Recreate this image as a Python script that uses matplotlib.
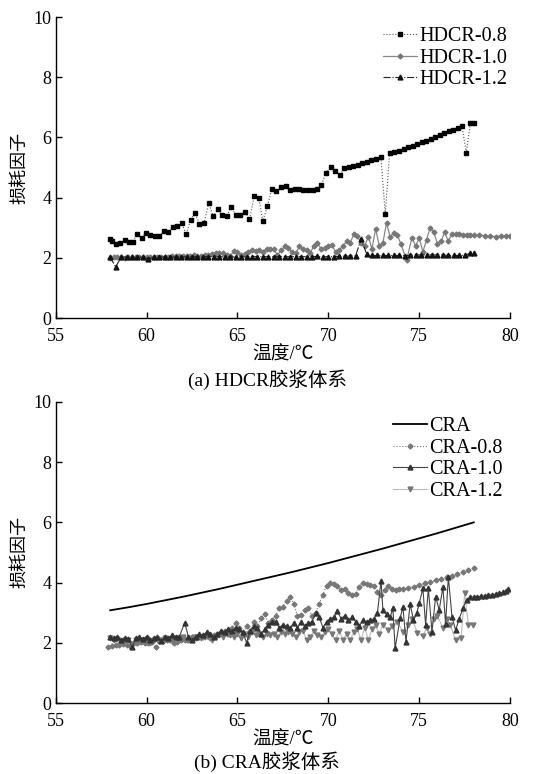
import matplotlib
matplotlib.use("Agg")
import matplotlib.pyplot as plt

plt.rcParams['font.family'] = ['Liberation Serif', 'Noto Sans CJK SC']
plt.rcParams['mathtext.fontset'] = 'stix'

# ---------------- (a) HDCR ----------------
hd08_T = [57.99, 58.08, 58.32, 58.54, 58.81, 59.04, 59.24, 59.49, 59.73, 59.97, 60.19, 60.47, 60.70, 60.96,
          61.20, 61.44, 61.70, 61.93, 62.17, 62.43, 62.67, 62.91, 63.16, 63.42, 63.66, 63.92, 64.17, 64.41,
          64.65, 64.91, 65.16, 65.42, 65.66, 65.92, 66.17, 66.39, 66.65, 66.89, 67.14, 67.38, 67.66, 67.90,
          68.14, 68.37, 68.63, 68.87, 69.13, 69.38, 69.62, 69.86, 70.12, 70.37, 70.65, 70.87, 71.13, 71.37,
          71.62, 71.86, 72.12, 72.37, 72.63, 72.89, 73.13, 73.37, 73.62, 73.88, 74.14, 74.37, 74.63, 74.87,
          75.13, 75.38, 75.62, 75.88, 76.12, 76.37, 76.61, 76.85, 77.11, 77.35, 77.59, 77.81, 77.99]
hd08_v = [2.64, 2.55, 2.47, 2.50, 2.58, 2.53, 2.53, 2.80, 2.66, 2.84, 2.77, 2.72, 2.72, 2.88,
          2.86, 3.02, 3.05, 3.16, 2.78, 3.27, 3.49, 3.12, 3.16, 3.83, 3.38, 3.61, 3.43, 3.40,
          3.69, 3.43, 3.44, 3.54, 3.28, 4.04, 4.00, 3.22, 3.72, 4.29, 4.21, 4.37, 4.40, 4.27,
          4.29, 4.29, 4.26, 4.27, 4.26, 4.29, 4.43, 4.81, 5.02, 4.90, 4.75, 4.98, 5.02, 5.04,
          5.09, 5.15, 5.19, 5.25, 5.29, 5.36, 3.45, 5.47, 5.52, 5.56, 5.61, 5.68, 5.73, 5.79,
          5.84, 5.89, 5.94, 6.02, 6.09, 6.15, 6.20, 6.25, 6.32, 6.37, 5.50, 6.47, 6.47]

hd10_T = [58.0, 58.2, 58.4, 58.6, 58.8, 59.0, 59.2, 59.4, 59.6, 59.8, 60.0, 60.2, 60.4, 60.6, 60.8,
          61.0, 61.2, 61.4, 61.6, 61.8, 62.0, 62.2, 62.4, 62.6, 62.8, 63.0, 63.2, 63.4, 63.6, 63.8,
          64.0, 64.2, 64.4, 64.6, 64.8, 65.0, 65.2, 65.4, 65.6, 65.8, 66.0, 66.2, 66.4, 66.6, 66.8,
          67.0, 67.2, 67.4, 67.6, 67.8, 68.0, 68.2, 68.4, 68.6, 68.8, 69.0, 69.2, 69.4, 69.6, 69.8,
          70.0, 70.2, 70.4, 70.6, 70.8, 71.0, 71.2, 71.4, 71.6, 71.8, 72.0, 72.2, 72.4, 72.6, 72.8,
          73.0, 73.2, 73.4, 73.6, 73.8, 74.0, 74.3, 74.6, 74.8, 75.0, 75.2, 75.4, 75.6, 75.8, 76.0,
          76.2, 76.4, 76.6, 76.8, 77.0, 77.2, 77.4, 77.6, 77.8, 78.0, 78.3, 78.6, 78.9, 79.2, 79.5,
          79.8, 80.0]
hd10_v = [1.98, 2.02, 2.03, 2.02, 2.00, 2.02, 2.02, 2.02, 2.02, 2.02, 2.03, 2.03, 2.03, 2.03, 2.04,
          2.04, 2.04, 2.05, 2.05, 2.06, 2.06, 2.07, 2.07, 2.08, 2.07, 2.06, 2.08, 2.10, 2.12, 2.15,
          2.17, 2.16, 2.10, 2.07, 2.22, 2.20, 2.08, 2.12, 2.20, 2.25, 2.24, 2.26, 2.20, 2.30, 2.30,
          2.28, 2.10, 2.25, 2.38, 2.32, 2.20, 2.15, 2.38, 2.30, 2.25, 2.15, 2.40, 2.50, 2.30, 2.32,
          2.40, 2.42, 2.20, 2.25, 2.40, 2.55, 2.50, 2.78, 2.72, 2.50, 2.40, 2.70, 2.30, 2.97, 2.40,
          2.50, 3.16, 2.70, 2.82, 2.75, 2.45, 1.92, 2.67, 2.40, 2.66, 2.20, 2.60, 3.00, 2.85, 2.47,
          2.55, 2.85, 2.55, 2.80, 2.78, 2.79, 2.77, 2.76, 2.76, 2.76, 2.75, 2.74, 2.72, 2.71, 2.72,
          2.74, 2.74]

hd12_T = [58.0, 58.3, 58.6, 58.9, 59.2, 59.5, 59.8, 60.1, 60.4, 60.7, 61.0, 61.3, 61.6, 61.9, 62.2,
          62.5, 62.8, 63.1, 63.4, 63.7, 64.0, 64.3, 64.6, 64.9, 65.2, 65.5, 65.8, 66.1, 66.4, 66.7,
          67.0, 67.3, 67.6, 67.9, 68.2, 68.5, 68.8, 69.1, 69.4, 69.7, 70.0, 70.3, 70.6, 70.9, 71.2,
          71.5, 71.8, 72.1, 72.4, 72.7, 73.0, 73.3, 73.6, 73.9, 74.2, 74.5, 74.8, 75.1, 75.4, 75.7,
          76.0, 76.3, 76.6, 76.9, 77.2, 77.5, 77.8, 78.0]
hd12_v = [2.02, 1.70, 2.02, 2.03, 2.02, 2.02, 2.03, 1.97, 2.02, 2.03, 2.03, 2.03, 2.03, 2.04, 2.03,
          2.04, 2.04, 2.04, 2.04, 2.04, 2.04, 2.03, 2.04, 2.02, 2.04, 2.03, 2.04, 2.04, 2.04, 2.04,
          2.04, 2.04, 2.04, 2.04, 2.04, 2.04, 2.04, 2.04, 2.05, 2.04, 2.04, 2.04, 2.05, 2.06, 2.06,
          2.07, 2.62, 2.14, 2.08, 2.08, 2.08, 2.08, 2.08, 2.08, 2.07, 2.09, 2.10, 2.10, 2.10, 2.10,
          2.10, 2.10, 2.08, 2.08, 2.08, 2.09, 2.15, 2.15]

# ---------------- (b) CRA ----------------
cra_T = [58, 59, 60, 61, 62, 63, 64, 65, 66, 67, 68, 69, 70, 71, 72, 73, 74, 75, 76, 77, 78]
cra_v = [3.08, 3.18, 3.29, 3.41, 3.53, 3.66, 3.79, 3.93, 4.07, 4.21, 4.35, 4.50, 4.65, 4.81, 4.97,
         5.13, 5.30, 5.47, 5.64, 5.82, 6.00]

c08_T = [57.9, 58.1, 58.3, 58.5, 58.7, 58.9, 59.1, 59.3, 59.5, 59.7, 59.9, 60.1, 60.3, 60.5, 60.7,
         60.9, 61.1, 61.3, 61.5, 61.7, 61.9, 62.1, 62.3, 62.5, 62.7, 62.9, 63.1, 63.3, 63.5, 63.7,
         63.9, 64.1, 64.3, 64.5, 64.7, 64.9, 65.1, 65.3, 65.5, 65.7, 65.9, 66.1, 66.3, 66.5, 66.7,
         66.9, 67.1, 67.3, 67.5, 67.7, 67.9, 68.1, 68.3, 68.5, 68.7, 68.9, 69.1, 69.3, 69.5, 69.7,
         69.9, 70.1, 70.3, 70.5, 70.7, 70.9, 71.1, 71.3, 71.5, 71.7, 71.9, 72.1, 72.3, 72.5, 72.7,
         72.9, 73.1, 73.3, 73.5, 73.7, 73.9, 74.1, 74.4, 74.7, 75.0, 75.3, 75.6, 75.9, 76.2, 76.5,
         76.8, 77.1, 77.4, 77.7, 78.0]
c08_v = [1.87, 1.90, 1.92, 1.92, 1.95, 1.93, 1.88, 1.98, 2.00, 2.02, 1.98, 2.00, 2.02, 1.85, 2.05,
         2.05, 2.08, 2.10, 2.00, 2.02, 2.08, 2.10, 2.10, 2.12, 2.15, 2.18, 2.20, 2.22, 2.15, 2.25,
         2.30, 2.35, 2.40, 2.30, 2.48, 2.66, 2.50, 2.30, 2.55, 2.40, 2.70, 2.55, 2.82, 2.96, 2.65,
         2.75, 2.90, 3.16, 3.20, 3.40, 3.51, 3.30, 2.90, 2.92, 3.10, 3.16, 2.90, 3.00, 3.30, 3.60,
         3.90, 4.00, 3.95, 3.88, 3.76, 3.80, 3.65, 3.60, 3.62, 3.85, 4.00, 3.95, 3.93, 3.90, 3.70,
         3.60, 3.75, 3.90, 3.80, 3.76, 3.78, 3.80, 3.83, 3.87, 3.92, 3.98, 4.02, 4.07, 4.12, 4.17,
         4.22, 4.28, 4.34, 4.42, 4.48]

c10_T = [58.0, 58.2, 58.4, 58.6, 58.8, 59.0, 59.2, 59.4, 59.6, 59.8, 60.0, 60.2, 60.4, 60.6, 60.8,
         61.0, 61.2, 61.4, 61.6, 61.8, 62.1, 62.3, 62.5, 62.7, 62.9, 63.1, 63.3, 63.5, 63.7, 63.9,
         64.1, 64.3, 64.5, 64.7, 64.9, 65.1, 65.3, 65.5, 65.7, 65.9, 66.1, 66.3, 66.5, 66.7, 66.9,
         67.1, 67.3, 67.5, 67.7, 67.9, 68.1, 68.3, 68.5, 68.7, 68.9, 69.1, 69.3, 69.5, 69.7, 69.9,
         70.1, 70.3, 70.5, 70.7, 70.9, 71.1, 71.3, 71.5, 71.7, 71.9, 72.1, 72.3, 72.5, 72.7, 72.9,
         73.0, 73.2, 73.4, 73.55, 73.67, 73.95, 74.1, 74.27, 74.5, 74.68, 74.86, 75.0, 75.2, 75.35, 75.5,
         75.7, 75.9, 76.1, 76.3, 76.45, 76.6, 76.8, 77.0, 77.2, 77.4, 77.6, 77.8, 78.0, 78.2, 78.4,
         78.6, 78.8, 79.0, 79.2, 79.4, 79.6, 79.8, 79.9]
c10_v = [2.20, 2.15, 2.18, 2.10, 2.15, 2.12, 1.85, 2.15, 2.20, 2.12, 2.20, 2.10, 2.15, 2.20, 2.05,
         2.20, 2.15, 2.25, 2.20, 2.20, 2.67, 2.20, 2.10, 2.20, 2.30, 2.25, 2.35, 2.30, 2.20, 2.30,
         2.40, 2.35, 2.45, 2.40, 2.50, 2.45, 2.35, 2.00, 2.40, 2.55, 2.50, 2.30, 2.45, 2.60, 2.70,
         2.70, 2.50, 2.60, 2.55, 2.50, 2.65, 2.50, 2.70, 2.55, 2.65, 2.70, 3.00, 2.85, 2.50, 2.70,
         2.80, 2.85, 3.05, 2.80, 2.90, 2.75, 2.85, 2.70, 2.55, 2.75, 2.70, 2.75, 2.80, 3.00, 4.06,
         3.09, 2.95, 2.85, 3.15, 1.82, 2.81, 3.20, 2.04, 3.29, 2.76, 2.98, 3.31, 3.81, 2.60, 3.81,
         2.37, 3.53, 3.09, 3.86, 2.64, 4.20, 2.87, 2.42, 2.80, 3.14, 3.42, 3.52, 3.52, 3.53, 3.55,
         3.56, 3.58, 3.60, 3.62, 3.64, 3.68, 3.72, 3.78]

c12_T = [58.0, 58.2, 58.4, 58.6, 58.8, 59.0, 59.2, 59.4, 59.6, 59.8, 60.0, 60.2, 60.4, 60.6, 60.8,
         61.0, 61.2, 61.4, 61.6, 61.8, 62.0, 62.2, 62.4, 62.6, 62.8, 63.0, 63.2, 63.4, 63.6, 63.8,
         64.0, 64.2, 64.4, 64.6, 64.8, 65.0, 65.2, 65.4, 65.6, 65.8, 66.0, 66.2, 66.4, 66.6, 66.8,
         67.0, 67.2, 67.4, 67.6, 67.8, 68.0, 68.2, 68.4, 68.6, 68.8, 69.0, 69.2, 69.4, 69.6, 69.8,
         70.0, 70.2, 70.4, 70.6, 70.8, 71.0, 71.2, 71.4, 71.6, 71.8, 72.0, 72.2, 72.4, 72.6, 72.8,
         73.0, 73.3, 73.5, 73.8, 74.1, 74.4, 74.6, 74.9, 75.2, 75.4, 75.6, 75.8, 76.0, 76.3, 76.5,
         76.7, 77.0, 77.3, 77.5, 77.7, 77.95]
c12_v = [2.15, 2.10, 2.12, 2.05, 2.10, 2.08, 1.95, 2.10, 2.05, 2.10, 2.12, 2.00, 2.10, 2.12, 2.10,
         2.15, 2.12, 2.10, 2.15, 2.12, 2.18, 2.10, 2.15, 2.18, 2.20, 2.15, 2.20, 2.25, 2.10, 2.20,
         2.25, 2.20, 2.30, 2.25, 2.20, 2.30, 2.15, 2.30, 2.20, 2.35, 2.25, 2.30, 2.20, 2.30, 2.25,
         2.30, 2.20, 2.35, 2.30, 2.35, 2.30, 2.20, 2.35, 2.40, 2.10, 2.20, 2.40, 2.25, 2.20, 2.35,
         2.45, 2.30, 2.10, 2.40, 2.10, 2.30, 2.10, 2.35, 2.45, 2.10, 2.50, 2.10, 2.45, 2.60, 2.30,
         2.60, 2.43, 2.55, 2.70, 2.37, 2.60, 2.80, 2.34, 2.22, 2.50, 2.30, 2.80, 2.90, 2.48, 2.80,
         2.60, 2.09, 2.15, 3.64, 2.59, 2.60]

xticks = [55, 60, 65, 70, 75, 80]
yticks = [0, 2, 4, 6, 8, 10]
xlabel = "温度/℃"
ylabel = "损耗因子"
cap_a = "(a) HDCR胶浆体系"
cap_b = "(b) CRA胶浆体系"

fig = plt.figure(figsize=(5.34, 7.74), dpi=100)
ax1 = fig.add_axes([0.1043, 0.589, 0.851, 0.389])
ax2 = fig.add_axes([0.1043, 0.0917, 0.851, 0.389])

for ax in (ax1, ax2):
    ax.set_xlim(55, 80)
    ax.set_ylim(0, 10)
    ax.set_xticks(xticks)
    ax.set_yticks(yticks)
    ax.spines['top'].set_visible(False)
    ax.spines['right'].set_visible(False)
    ax.spines['left'].set_linewidth(1.0)
    ax.spines['bottom'].set_linewidth(1.0)
    ax.tick_params(direction='in', length=4, width=1.0, labelsize=13)
    ax.tick_params(axis='x', pad=7)
    ax.tick_params(axis='y', pad=3)
    ax.set_xlabel(xlabel, fontsize=13.5, labelpad=1)
    ax.set_ylabel(ylabel, fontsize=13, labelpad=4)

ax1.plot(hd08_T, hd08_v, linestyle=':', color='#555555', lw=0.8, marker='s', ms=3,
         mfc='black', mec='black', label='HDCR-0.8', zorder=4)
ax1.plot(hd10_T, hd10_v, linestyle='-', color='#888888', lw=0.9, marker='D', ms=2.5,
         mfc='#777777', mec='#777777', label='HDCR-1.0', zorder=3)
ax1.plot(hd12_T, hd12_v, linestyle='-.', color='#222222', lw=0.8, marker='^', ms=3.5,
         mfc='#111111', mec='#111111', label='HDCR-1.2', zorder=3)

ax2.plot(cra_T, cra_v, linestyle='-', color='black', lw=1.3, label='CRA', zorder=5)
ax2.plot(c08_T, c08_v, linestyle=':', color='#777777', lw=0.8, marker='D', ms=2.5,
         mfc='#777777', mec='#777777', label='CRA-0.8', zorder=3)
ax2.plot(c10_T, c10_v, linestyle='-', color='#444444', lw=0.8, marker='^', ms=3.5,
         mfc='#333333', mec='#333333', label='CRA-1.0', zorder=4)
ax2.plot(c12_T, c12_v, linestyle='-', color='#bbbbbb', lw=0.8, marker='v', ms=3.5,
         mfc='#777777', mec='#777777', label='CRA-1.2', zorder=2)

leg_kw = dict(frameon=False, fontsize=14.5, handlelength=1.7, handletextpad=0.1,
              labelspacing=0.12, borderpad=0, borderaxespad=0, loc='upper left')
ax1.legend(bbox_to_anchor=(383 / 534, 1 - 27 / 774), bbox_transform=fig.transFigure, **leg_kw)
ax2.legend(bbox_to_anchor=(393 / 534, 1 - 417 / 774), bbox_transform=fig.transFigure, **leg_kw)

fig.text(0.5, 1 - 380 / 774, cap_a, ha='center', va='center', fontsize=14)
fig.text(0.5, 1 - 762 / 774, cap_b, ha='center', va='center', fontsize=14)

fig.savefig('out.png', dpi=100)
